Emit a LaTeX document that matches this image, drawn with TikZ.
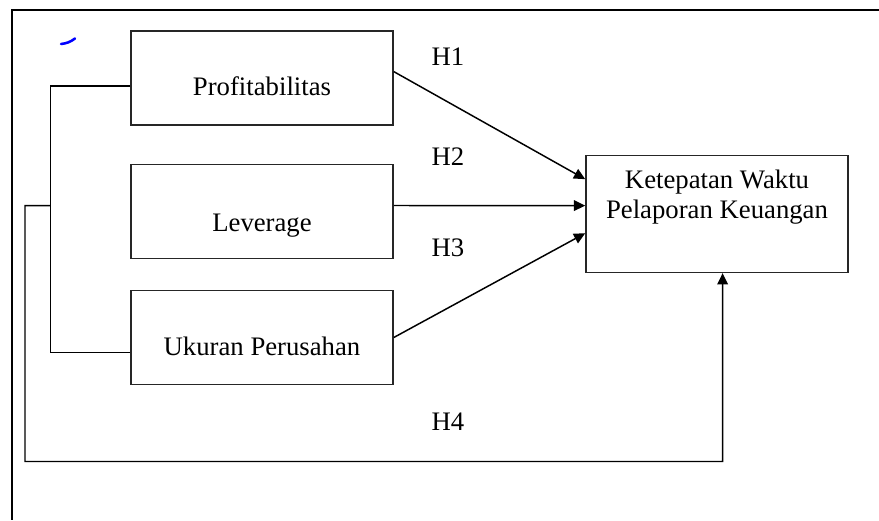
\documentclass[tikz,border=0pt]{standalone}
\usepackage{fontspec}
\setmainfont{Liberation Serif}
\usetikzlibrary{arrows.meta}

\begin{document}
\begin{tikzpicture}
[x=0.025cm, y=-0.025cm,
connection/.style={-{Triangle[length=8pt,width=7.5pt]},line width=1.05pt},
link/.style={-,line width=1.05pt},
varbox/.style={rectangle,draw=black!85,fill=white,inner sep=0pt,minimum width=6.55cm,minimum height=2.35cm,line width=1.05pt,font=\fontsize{19}{21.3}\selectfont,text depth=0pt},
hypothesis/.style={inner sep=0pt,font=\fontsize{19}{21.3}\selectfont}]

\useasboundingbox (0,0) rectangle (879,520);

% Frame
\draw[line width=1.3pt] (879,10) -- (12,10) -- (12,520);
\draw[blue,line width=1.8pt,line cap=round] (61,44) to[bend right=15] (75,38.5);

% Drawing variables
\node[varbox,text height=24.8pt] (prof) at (262,78) {Profitabilitas};
\node[varbox,text height=28.4pt] (lev) at (262,211.5) {Leverage};
\node[varbox,text height=25.6pt] (ukuran) at (262,337.5) {Ukuran Perusahan};
\node[varbox,minimum height=2.92cm,align=center,text height=6.2pt] (ketepatan) at (717,214) {Ketepatan Waktu\\Pelaporan Keuangan};

% Drawing hypotheses
\node[hypothesis] (h1) at (448,56.5) {H1};
\node[hypothesis] (h2) at (448,156.5) {H2};
\node[hypothesis] (h3) at (448,248) {H3};
\node[hypothesis] (h4) at (448,421.5) {H4};

% Drawing connections
\coordinate (split) at (50.5,205.7);
\draw[connection] ([yshift=0.16cm]prof.east) -- ([yshift=0.87cm]ketepatan.west);
\draw[connection] ([yshift=0.15cm]lev.east) -- ([yshift=0.21cm]ketepatan.west);
\draw[connection] (ukuran.east) -- ([yshift=-0.48cm]ketepatan.west);
\draw[link] ([yshift=-0.2cm]prof.west) -| (split) |- ([yshift=-0.38cm]ukuran.west);
\draw[connection] (split) -- (25,205.7) |- (722.5,461.5) -- ([xshift=0.14cm]ketepatan.south);
\end{tikzpicture}
\end{document}
